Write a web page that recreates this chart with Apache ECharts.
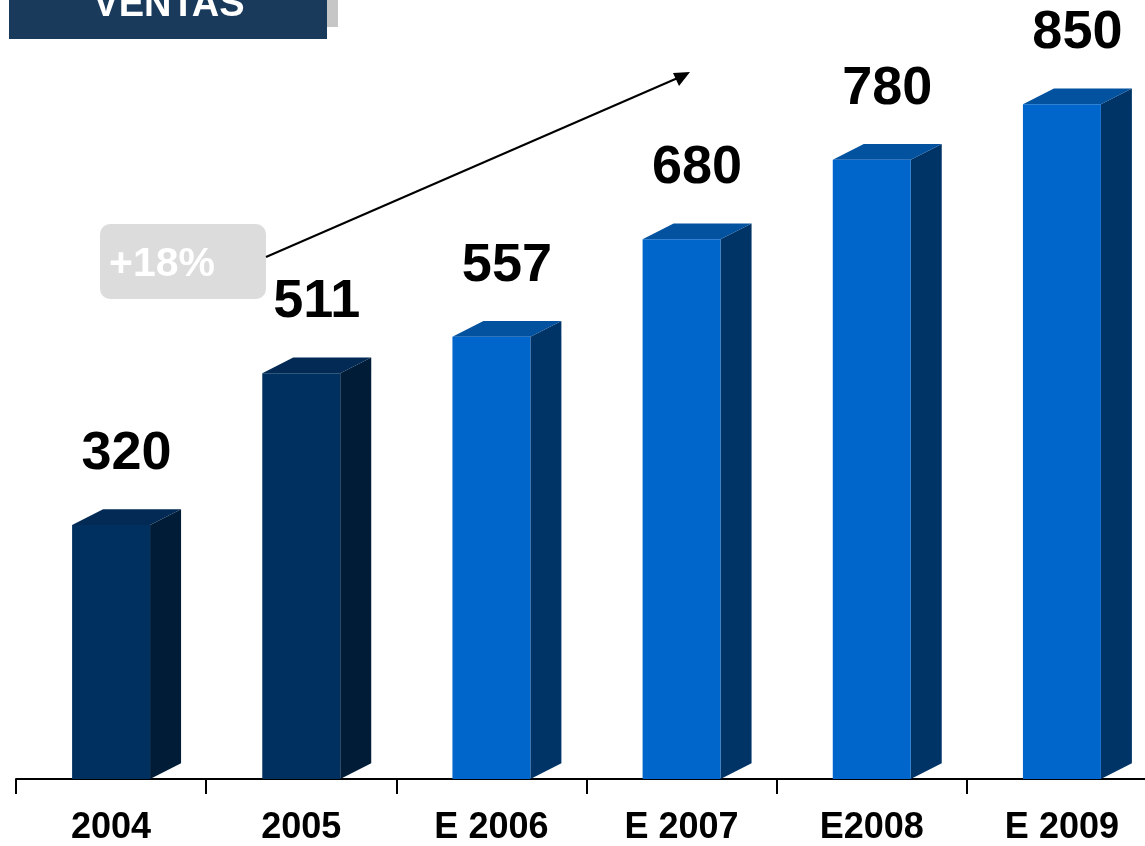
<!DOCTYPE html>
<html>
<head>
<meta charset="utf-8">
<script src="https://cdn.jsdelivr.net/npm/echarts@6/dist/echarts.min.js"></script>
<style>
html,body{margin:0;padding:0;background:#fff;overflow:hidden;width:1145px;height:846px;}
#chart{width:1157px;height:846px;}
</style>
</head>
<body>
<div id="chart"></div>
<script>
var categories = ['2004', '2005', 'E 2006', 'E 2007', 'E2008', 'E 2009'];
var ventas = [320, 511, 557, 680, 780, 850];
var titleText = 'VENTAS';
var growthText = '+18%';

var FONT = '"Liberation Sans", Arial, Helvetica, sans-serif';
var actualColors = { front: '#00305f', side: '#001c36', top: '#022a55' };
var estimateColors = { front: '#0066cc', side: '#003366', top: '#0352a0' };

var chart = echarts.init(document.getElementById('chart'), null, { renderer: 'canvas' });

function renderBar(params, api) {
  var idx = api.value(0);
  var val = api.value(1);
  var top = api.coord([idx, val]);
  var base = api.coord([idx, 0]);
  var band = api.size([1, 0])[0];
  var w = band * 0.41;
  var dx = band * 0.163;
  var dy = band * 0.083;
  var x0 = top[0] - w / 2;
  var x1 = top[0] + w / 2;
  var y0 = top[1];
  var yb = base[1];
  var isEst = categories[idx].charAt(0) === 'E';
  var c = isEst ? estimateColors : actualColors;
  return {
    type: 'group',
    children: [
      { type: 'polygon', shape: { points: [[x1, y0], [x1 + dx, y0 - dy], [x1 + dx, yb - dy], [x1, yb]] }, style: { fill: c.side } },
      { type: 'polygon', shape: { points: [[x0, y0], [x0 + dx, y0 - dy], [x1 + dx, y0 - dy], [x1, y0]] }, style: { fill: c.top } },
      { type: 'rect', shape: { x: x0, y: y0, width: w, height: yb - y0 }, style: { fill: c.front } },
      { type: 'text', x: top[0] + dx / 2, y: y0 - 71,
        style: { text: String(ventas[idx]), fill: '#000', font: 'bold 54px ' + FONT, align: 'center', verticalAlign: 'middle' } }
    ]
  };
}

var option = {
  animation: false,
  backgroundColor: '#ffffff',
  grid: { left: 16, right: 0, top: 1, height: 779, containLabel: false },
  xAxis: {
    type: 'category',
    data: categories,
    boundaryGap: true,
    axisLine: { show: true, lineStyle: { color: '#000', width: 2 } },
    axisTick: { show: true, length: 15, alignWithLabel: false, lineStyle: { color: '#000', width: 2 } },
    axisLabel: { color: '#000', fontFamily: FONT, fontWeight: 'bold', fontSize: 36, margin: 31, interval: 0 },
    splitLine: { show: false }
  },
  yAxis: {
    type: 'value', min: 0, max: 980, show: false, splitLine: { show: false }
  },
  series: [{
    type: 'custom',
    renderItem: renderBar,
    data: ventas.map(function (v, i) { return [i, v]; }),
    encode: { x: 0, y: 1 },
    clip: false
  }],
  graphic: [
    { type: 'rect', shape: { x: 9, y: -5, width: 318, height: 44 }, style: { fill: '#1a3a5c' } },
    { type: 'rect', shape: { x: 327, y: 0, width: 11, height: 27 }, style: { fill: '#c6c6c6' } },
    { type: 'text', x: 169, y: 6, style: { text: titleText, fill: '#fff', font: 'bold 38px ' + FONT, align: 'center', verticalAlign: 'middle' } },
    { type: 'rect', shape: { x: 100, y: 224, width: 166, height: 75, r: 10 }, style: { fill: '#dcdcdc' } },
    { type: 'text', x: 109, y: 265, style: { text: growthText, fill: '#fff', font: 'bold 41px ' + FONT, align: 'left', verticalAlign: 'middle' } },
    { type: 'line', shape: { x1: 266, y1: 257, x2: 680, y2: 77 }, style: { stroke: '#000', lineWidth: 2 } },
    { type: 'polygon', shape: { points: [[690, 72], [673, 73], [679, 86]] }, style: { fill: '#000' } }
  ]
};
chart.setOption(option);
</script>
</body>
</html>
